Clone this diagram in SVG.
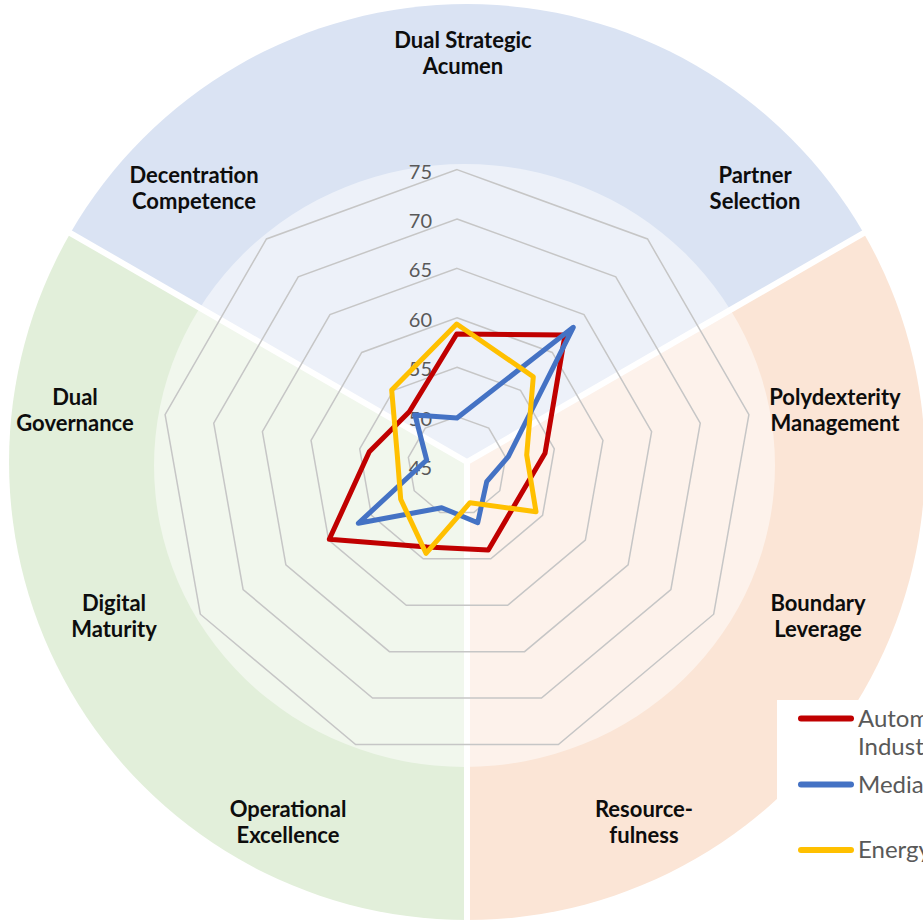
<svg xmlns="http://www.w3.org/2000/svg" width="923" height="923" viewBox="0 0 923 923">
<style>
.axl{font-family:Lato,"Open Sans","Liberation Sans",sans-serif;font-weight:bold;font-size:22px;fill:#0d0d0d;text-anchor:middle}
.tick{font-family:Lato,"Open Sans","Liberation Sans",sans-serif;font-size:20px;fill:#595959;text-anchor:end}
.leg{font-family:Lato,"Open Sans","Liberation Sans",sans-serif;font-size:24px;fill:#595959}
.grid{fill:none;stroke:#c6c6c6;stroke-width:1.5}
.sep{stroke:#ffffff;stroke-width:6}
.ser{fill:none;stroke-width:5;stroke-linejoin:round}
.lg{stroke-width:6;stroke-linecap:round}
</style>
<rect width="923" height="923" fill="#ffffff"/>
<g id="background">
<path d="M467 462 L70.4 233 A458 458 0 0 1 863.6 233 Z" fill="#DAE3F3"/>
<path d="M467 462 L863.6 233 A458 458 0 0 1 467 920 Z" fill="#FBE5D6"/>
<path d="M467 462 L467 920 A458 458 0 0 1 70.4 233 Z" fill="#E2EFDA"/>
<ellipse cx="464.5" cy="465.5" rx="310.5" ry="301.5" fill="#ffffff" fill-opacity="0.5"/>
<line class="sep" x1="467" y1="462" x2="50" y2="221.3"/>
<line class="sep" x1="467" y1="462" x2="884" y2="221.3"/>
<line class="sep" x1="467" y1="462" x2="467" y2="923"/>
</g>
<g id="grid">
<polygon class="grid" points="457,416.6 488.75,428.16 505.65,457.42 499.78,490.7 473.89,512.42 440.11,512.42 414.22,490.7 408.35,457.42 425.25,428.16"/>
<polygon class="grid" points="457,367.2 520.51,390.32 554.3,448.85 542.56,515.4 490.79,558.84 423.21,558.84 371.44,515.4 359.7,448.85 393.49,390.32"/>
<polygon class="grid" points="457,317.8 552.26,352.48 602.95,440.27 585.34,540.1 507.68,605.26 406.32,605.26 328.66,540.1 311.05,440.27 361.74,352.48"/>
<polygon class="grid" points="457,268.4 584.02,314.64 651.6,431.7 628.12,564.8 524.58,651.68 389.42,651.68 285.88,564.8 262.4,431.7 329.98,314.64"/>
<polygon class="grid" points="457,219 615.77,276.8 700.25,423.12 670.9,589.5 541.47,698.11 372.53,698.11 243.1,589.5 213.75,423.12 298.23,276.8"/>
<polygon class="grid" points="457,169.6 647.53,238.96 748.9,414.55 713.68,614.2 558.37,744.53 355.63,744.53 200.32,614.2 165.1,414.55 266.47,238.96"/>
</g>
<g id="ticks">
<text class="tick" x="432" y="179">75</text>
<text class="tick" x="432" y="228">70</text>
<text class="tick" x="432" y="277">65</text>
<text class="tick" x="432" y="327">60</text>
<text class="tick" x="432" y="376">55</text>
<text class="tick" x="432" y="426">50</text>
<text class="tick" x="432" y="475">45</text>
</g>
<g id="series">
<polygon id="s-auto" class="ser" stroke="#C00000" points="456.7,334 565,335 545,453.3 517,501 488.3,550 427,547 329.3,539.3 369.3,451.7 409.3,411.7"/>
<polygon id="s-media" class="ser" stroke="#4472C4" points="457,418 573.3,327.3 508.3,456.7 486.7,481.7 477.7,522.7 441.7,507.7 358.3,523.3 426.7,460 415,415"/>
<polygon id="s-energy" class="ser" stroke="#FFC000" points="456.7,324 533.3,376.7 526.7,455 536,511.7 470,502.7 426,553.3 400.7,499.3 397.3,455.4 391.7,390"/>
</g>
<g id="label-dsa"><text class="axl" x="463" y="48">Dual Strategic</text><text class="axl" x="463" y="74">Acumen</text></g>
<g id="label-ps"><text class="axl" x="755" y="183">Partner</text><text class="axl" x="755" y="209">Selection</text></g>
<g id="label-pm"><text class="axl" x="835" y="405">Polydexterity</text><text class="axl" x="835" y="431">Management</text></g>
<g id="label-bl"><text class="axl" x="818" y="611">Boundary</text><text class="axl" x="818" y="637">Leverage</text></g>
<g id="label-rf"><text class="axl" x="644" y="817">Resource-</text><text class="axl" x="644" y="843">fulness</text></g>
<g id="label-oe"><text class="axl" x="288" y="817">Operational</text><text class="axl" x="288" y="843">Excellence</text></g>
<g id="label-dm"><text class="axl" x="114" y="611">Digital</text><text class="axl" x="114" y="637">Maturity</text></g>
<g id="label-dg"><text class="axl" x="75" y="405">Dual</text><text class="axl" x="75" y="431">Governance</text></g>
<g id="label-dc"><text class="axl" x="194" y="183">Decentration</text><text class="axl" x="194" y="209">Competence</text></g>
<g id="legend">
<rect x="777" y="700" width="150" height="230" fill="#ffffff"/>
<line class="lg" x1="801" y1="718.5" x2="851" y2="718.5" stroke="#C00000"/>
<line class="lg" x1="801" y1="784.5" x2="851" y2="784.5" stroke="#4472C4"/>
<line class="lg" x1="801" y1="850" x2="851" y2="850" stroke="#FFC000"/>
<text class="leg" x="858" y="727">Automotive</text>
<text class="leg" x="858" y="755">Industry</text>
<text class="leg" x="858" y="793">Media</text>
<text class="leg" x="858" y="858">Energy</text>
</g>
</svg>
